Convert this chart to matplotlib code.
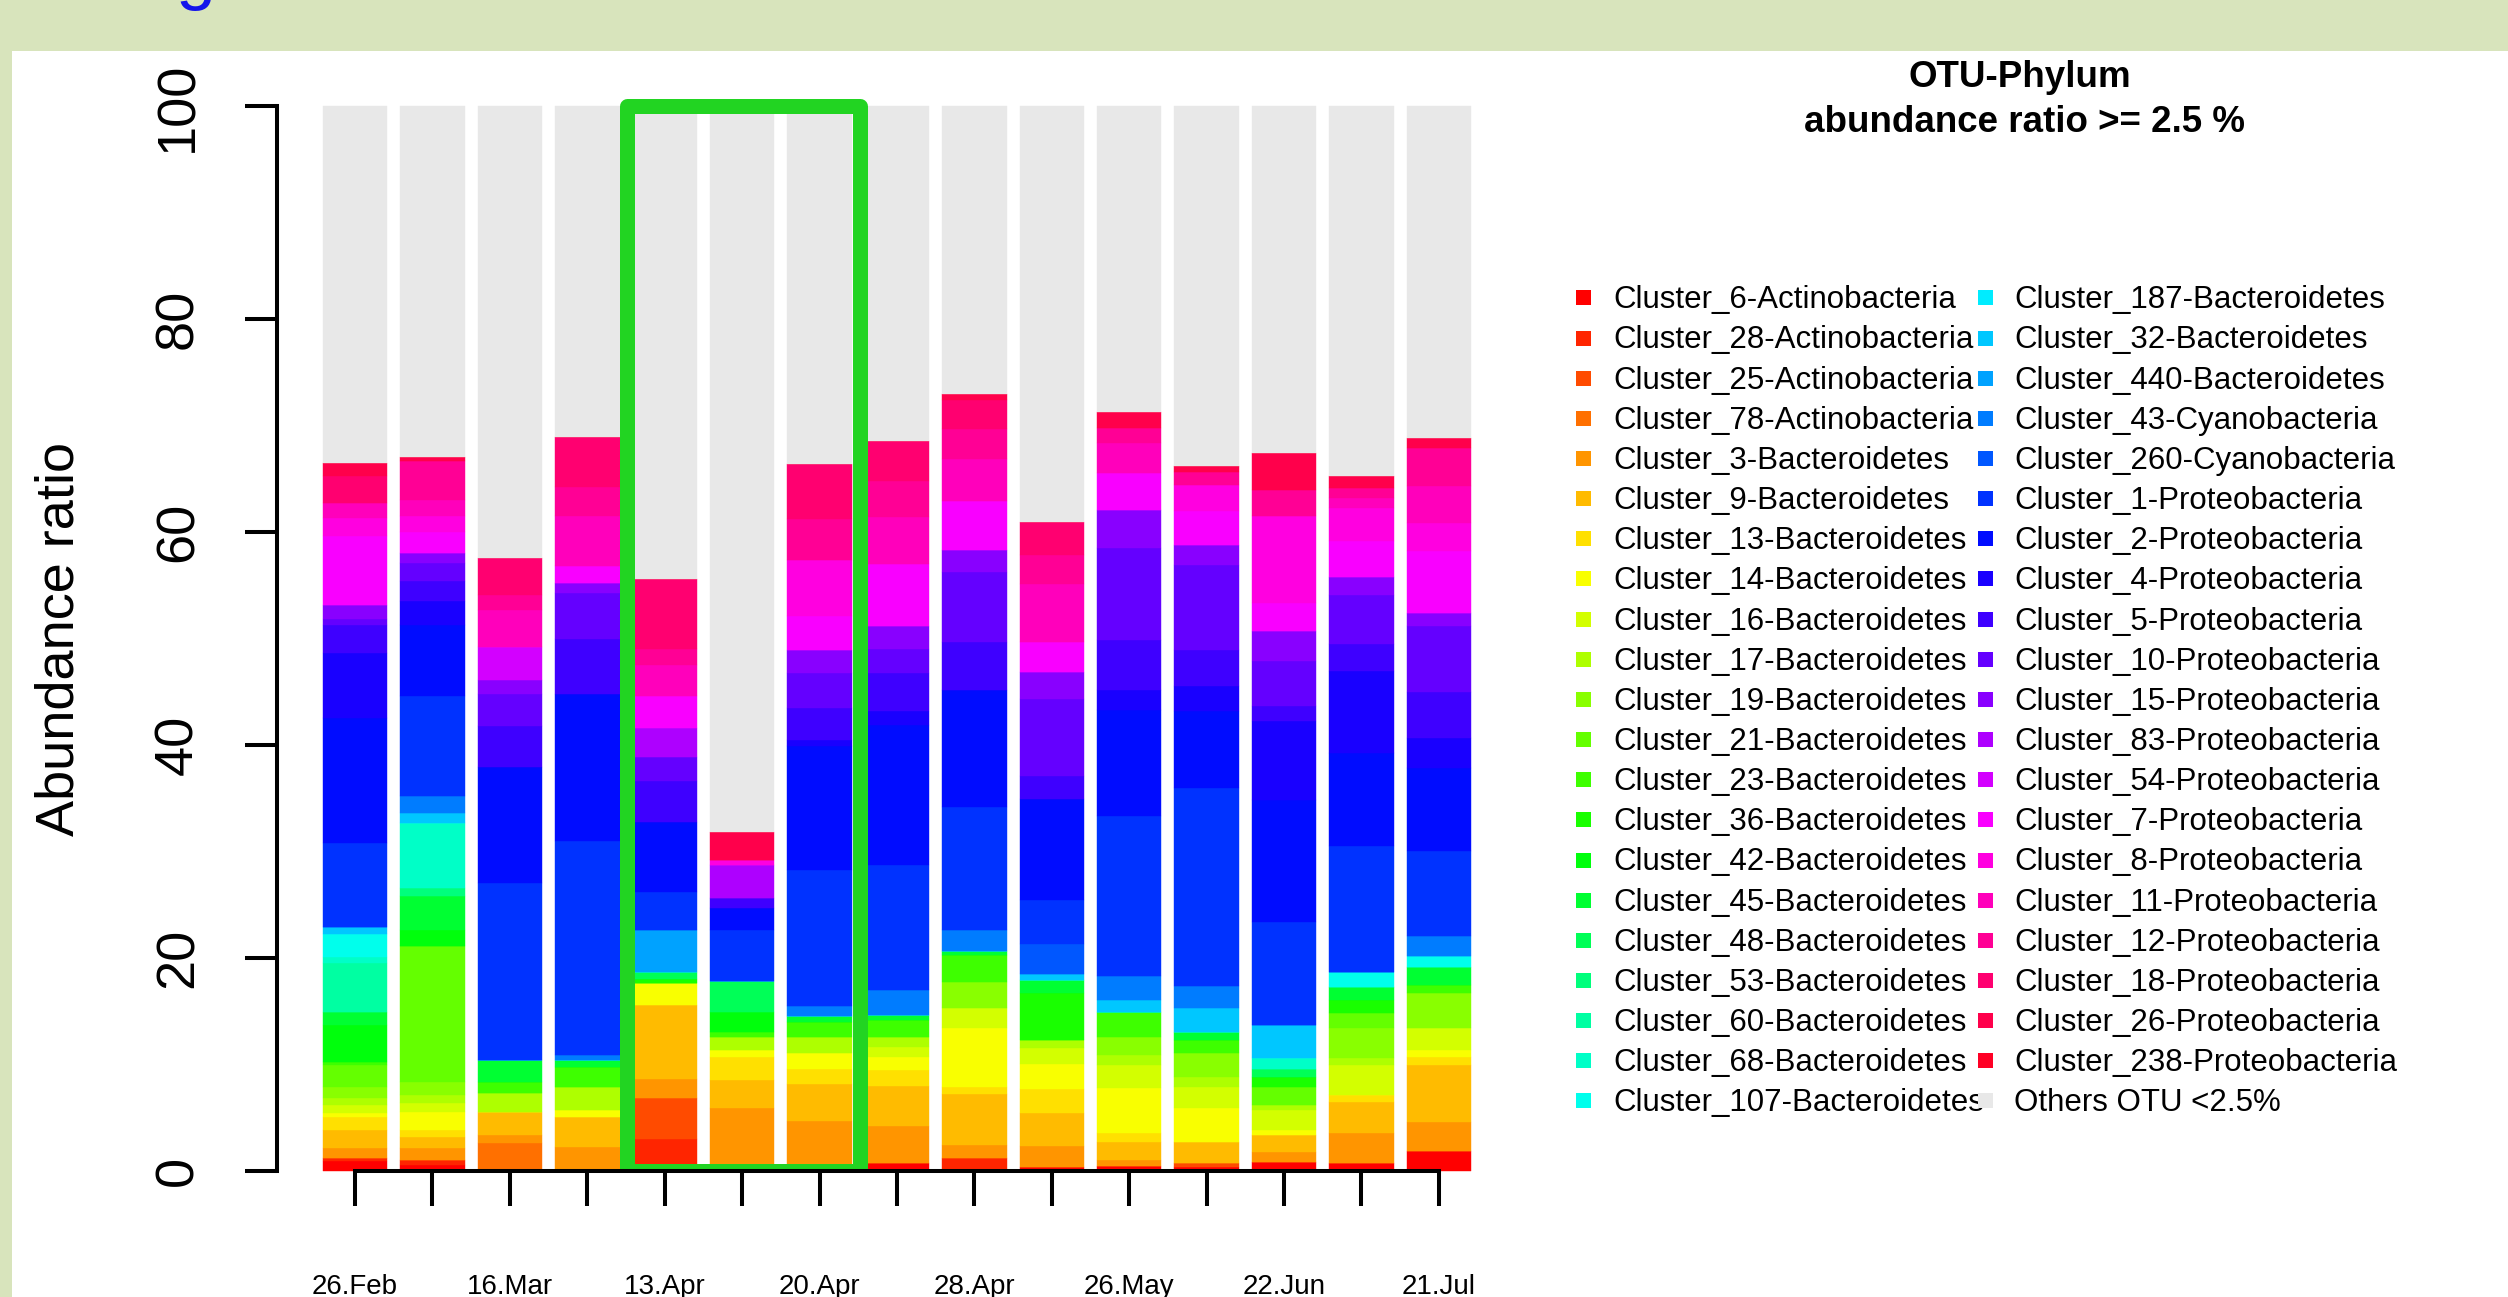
import colorsys
import matplotlib
matplotlib.use("Agg")
import matplotlib.pyplot as plt
import numpy as np
from matplotlib.patches import Rectangle
from matplotlib.lines import Line2D
from matplotlib.transforms import Bbox, TransformedBbox

plt.rcParams['font.family'] = ['Liberation Sans', 'DejaVu Sans']

# ---------------- data ----------------
tick_labels = ['26.Feb', '', '16.Mar', '', '13.Apr', '', '20.Apr', '',
               '28.Apr', '', '26.May', '', '22.Jun', '', '21.Jul']

clusters = [
    'Cluster_6-Actinobacteria', 'Cluster_28-Actinobacteria', 'Cluster_25-Actinobacteria',
    'Cluster_78-Actinobacteria', 'Cluster_3-Bacteroidetes', 'Cluster_9-Bacteroidetes',
    'Cluster_13-Bacteroidetes', 'Cluster_14-Bacteroidetes', 'Cluster_16-Bacteroidetes',
    'Cluster_17-Bacteroidetes', 'Cluster_19-Bacteroidetes', 'Cluster_21-Bacteroidetes',
    'Cluster_23-Bacteroidetes', 'Cluster_36-Bacteroidetes', 'Cluster_42-Bacteroidetes',
    'Cluster_45-Bacteroidetes', 'Cluster_48-Bacteroidetes', 'Cluster_53-Bacteroidetes',
    'Cluster_60-Bacteroidetes', 'Cluster_68-Bacteroidetes', 'Cluster_107-Bacteroidetes',
    'Cluster_187-Bacteroidetes', 'Cluster_32-Bacteroidetes', 'Cluster_440-Bacteroidetes',
    'Cluster_43-Cyanobacteria', 'Cluster_260-Cyanobacteria', 'Cluster_1-Proteobacteria',
    'Cluster_2-Proteobacteria', 'Cluster_4-Proteobacteria', 'Cluster_5-Proteobacteria',
    'Cluster_10-Proteobacteria', 'Cluster_15-Proteobacteria', 'Cluster_83-Proteobacteria',
    'Cluster_54-Proteobacteria', 'Cluster_7-Proteobacteria', 'Cluster_8-Proteobacteria',
    'Cluster_11-Proteobacteria', 'Cluster_12-Proteobacteria', 'Cluster_18-Proteobacteria',
    'Cluster_26-Proteobacteria', 'Cluster_238-Proteobacteria']
others_label = 'Others OTU <2.5%'

# abundance (%) of each cluster, one list per sample (bar), in cluster order
s01 = [0.90, 0.25, 0, 0, 0.95, 1.72, 1.26, 0.31, 0.79, 0.62,
       1.10, 2.04, 0.31, 0, 3.45, 1.25, 0, 0, 4.55, 0.60,
       2.10, 0, 0.70, 0, 0, 0, 7.90, 11.70, 6.15, 2.65,
       0.50, 1.40, 0, 0, 6.40, 1.75, 1.41, 0, 2.54, 1.20, 0]
s02 = [0.55, 0.45, 0, 0, 1.10, 1.10, 0.62, 1.73, 0.78, 0.77,
       1.27, 12.70, 0, 0, 1.53, 3.17, 0, 0.78, 0, 6.11,
       0, 0, 0.94, 0, 1.60, 0, 9.40, 6.70, 2.20, 1.95,
       1.65, 0.96, 0, 0, 1.94, 1.50, 1.57, 3.63, 0, 0.40, 0]
s03 = [0, 0, 0, 2.57, 0.78, 2.20, 0, 0, 0, 1.72,
       0, 0, 1.10, 0, 0, 2.03, 0, 0, 0, 0,
       0, 0, 0, 0, 0, 0, 16.60, 10.90, 0, 3.90,
       3.00, 1.30, 0, 3.10, 0, 0, 3.47, 1.43, 3.50, 0, 0]
s04 = [0, 0, 0, 0, 2.26, 2.82, 0, 0.62, 0, 2.20,
       0, 0, 1.88, 0, 0, 0.62, 0, 0, 0, 0,
       0, 0, 0, 0, 0.47, 0, 20.07, 13.89, 0, 5.14,
       4.33, 0.94, 0, 0, 1.56, 0, 4.70, 2.70, 4.70, 0, 0]
s05 = [0, 2.95, 3.85, 0, 1.82, 6.96, 0, 2.02, 0, 0,
       0, 0, 0, 0.46, 0, 0, 0.64, 0, 0, 0,
       0, 0, 0, 3.90, 0, 0, 3.60, 6.60, 0, 3.80,
       2.30, 0, 2.70, 0, 3.00, 0, 2.90, 1.50, 6.60, 0, 0]
s06 = [0.55, 0, 0, 0, 5.31, 2.67, 2.19, 0.63, 0, 1.19,
       0, 0, 0.53, 0, 1.88, 0, 2.89, 0, 0, 0,
       0, 0, 0, 0, 0, 0, 4.79, 2.04, 0, 0.93,
       0, 0, 3.15, 0, 0, 0.45, 0, 0, 0, 2.60, 0]
s07 = [0, 0, 0, 0, 4.70, 3.45, 1.41, 1.47, 0, 1.57,
       0, 0, 1.40, 0, 0, 0.50, 0, 0, 0, 0,
       0, 0, 0, 0, 1.00, 0, 12.80, 11.60, 0.60, 3.00,
       3.30, 2.17, 0, 0, 3.19, 5.24, 0, 3.80, 5.20, 0, 0]
s08 = [0.70, 0, 0, 0, 3.50, 3.76, 1.51, 1.25, 0.94, 0.88,
       0, 0, 1.63, 0, 0, 0.47, 0, 0, 0, 0,
       0, 0, 0, 0, 2.36, 0, 11.75, 13.15, 1.30, 3.60,
       2.20, 2.16, 0, 0, 5.84, 0, 4.40, 3.40, 3.76, 0, 0]
s09 = [0, 1.16, 0, 0, 1.25, 4.79, 0.64, 5.55, 1.88, 0,
       2.50, 0, 2.51, 0, 0, 0.32, 0, 0, 0, 0,
       0, 0, 0, 0, 2.00, 0, 11.57, 11.03, 0, 4.50,
       6.54, 2.13, 0, 0, 4.53, 0, 4.00, 2.76, 2.74, 0.60, 0]
s10 = [0.38, 0, 0, 0, 1.94, 3.07, 2.26, 2.38, 1.47, 0.79,
       0, 0, 0, 4.39, 0, 1.25, 0, 0, 0, 0,
       0, 0, 0.57, 0, 0, 2.80, 4.15, 9.45, 0, 2.20,
       7.23, 2.50, 0, 0, 2.87, 0, 5.47, 2.70, 3.07, 0, 0]
s11 = [0.44, 0, 0, 0, 0.56, 1.73, 0.78, 4.23, 2.20, 0.94,
       1.66, 0, 2.41, 0, 0, 0, 0, 0, 0, 0,
       0, 0, 1.10, 0, 2.25, 0, 15.05, 9.95, 1.90, 4.64,
       8.66, 3.57, 0, 0, 3.51, 0, 2.82, 1.40, 0, 1.50, 0]
s12 = [0.38, 0, 0.37, 0, 0, 1.98, 0, 3.13, 2.04, 0.94,
       2.19, 0, 1.26, 0, 0, 0.78, 0, 0, 0, 0,
       0, 0, 2.20, 0, 2.10, 0, 18.59, 7.21, 2.33, 3.40,
       7.97, 1.88, 0, 0, 3.22, 2.43, 0, 1.24, 0, 0.56, 0]
s13 = [0.85, 0, 0, 0, 0.94, 1.56, 0, 0.47, 1.88, 0.48,
       0, 1.72, 0, 0.94, 0, 0, 0.69, 0, 0, 1.03,
       0, 0, 3.14, 0, 0, 0, 9.70, 11.46, 7.44, 1.40,
       4.20, 2.80, 0, 0, 2.65, 8.15, 0, 2.50, 0, 3.46, 0]
s14 = [0.69, 0, 0, 0, 2.88, 2.92, 0.63, 0, 2.82, 0.62,
       2.83, 1.41, 0, 1.25, 0, 1.25, 0, 0, 0, 0,
       1.40, 0, 0, 0, 0, 0, 11.77, 8.78, 7.68, 2.57,
       4.64, 1.63, 0, 0, 3.38, 3.15, 0.90, 0.97, 0, 1.13, 0]
s15 = [1.88, 0, 0, 0, 2.72, 5.34, 0.78, 0.63, 2.04, 0,
       3.29, 0, 0.78, 0, 0, 1.72, 0, 0, 0, 0,
       0.95, 0, 0, 0, 1.94, 0, 7.93, 7.84, 2.82, 4.29,
       6.27, 1.18, 0, 0, 5.80, 2.68, 3.42, 3.60, 0, 0.97, 0]
others = [33.50, 32.90, 42.40, 31.10, 44.40, 68.20, 33.60, 31.44,
          27.00, 39.06, 28.70, 33.80, 32.54, 34.70, 31.13]

samples = [s01, s02, s03, s04, s05, s06, s07, s08, s09, s10, s11, s12, s13, s14, s15]

# ---------------- style ----------------
W, H, DPI = 2508, 1297, 100
n_cl = len(clusters)
colors = [colorsys.hsv_to_rgb(k / n_cl, 1.0, 1.0) for k in range(n_cl)]
others_color = '#E8E8E8'
green = '#22D422'

fig = plt.figure(figsize=(W / DPI, H / DPI), dpi=DPI, facecolor='#D8E4BC')
# white slide panel (behind everything)
fig.patches.append(Rectangle((12 / W, 0), 1, (H - 50.7) / H, transform=fig.transFigure,
                             facecolor='white', edgecolor='none', zorder=-10))
# cut-off heading glyph at the very top
fig.text(176 / W, (H + 4.3) / H, 'g', color='#1414EB', fontsize=52,
         ha='left', va='baseline')

# axes placed in pixel units (R-like 4% padding)
px_left, px_right = 276.8, 1517.1
px_top, px_bot = 63.9, 1213.3
ax = fig.add_axes([px_left / W, 1 - px_bot / H, (px_right - px_left) / W, (px_bot - px_top) / H])
ax.set_zorder(1)
ax.patch.set_alpha(0)
ax.set_xlim(-0.512, 18.712)
ax.set_ylim(-4, 104)

xpos = 0.7 + 1.2 * np.arange(len(samples))
bottom = np.zeros(len(samples))
for k in range(n_cl):
    h = np.array([s[k] for s in samples])
    ax.bar(xpos, h, width=1.0, bottom=bottom, color=colors[k], edgecolor=colors[k],
           linewidth=0.3, zorder=2)
    bottom += h
ax.bar(xpos, others, width=1.0, bottom=bottom, color=others_color, edgecolor=others_color,
       linewidth=0.3, zorder=2)

# green highlight box
rect = Rectangle((4.92, 0), 8.52 - 4.92, 100, fill=False, edgecolor=green,
                 linewidth=10.8, joinstyle='round', zorder=3)
ax.add_patch(rect)
rect.set_clip_box(TransformedBbox(Bbox.from_extents(-1, 0, 20, 120), ax.transData))

# axes
for sp in ['top', 'right']:
    ax.spines[sp].set_visible(False)
ax.spines['left'].set_bounds(0, 100)
ax.spines['left'].set_linewidth(2.9)
ax.spines['bottom'].set_position(('data', 0))
ax.spines['bottom'].set_bounds(xpos[0], xpos[-1])
ax.spines['bottom'].set_linewidth(2.9)
ax.spines['bottom'].set_zorder(5)
ax.spines['left'].set_zorder(5)

ax.set_yticks([0, 20, 40, 60, 80, 100])
ax.set_yticklabels(['0', '20', '40', '60', '80', '100'], rotation=90, fontsize=39)
for lbl in ax.get_yticklabels():
    lbl.set_ha('center')
    lbl.set_va('center')
ax.tick_params(axis='y', length=23, width=2.9, pad=47.8)

ax.set_xticks(xpos)
ax.set_xticklabels(tick_labels, fontsize=20)
ax.tick_params(axis='x', length=25.2, width=2.9, pad=49)

ax.set_ylabel('Abundance ratio', fontsize=39, va='center')
ax.yaxis.set_label_coords((60 - px_left) / (px_right - px_left), 0.5)

# legend title
fig.text(2020 / W, 1 - 77.6 / H, 'OTU-Phylum', ha='center', va='center',
         fontsize=26.5, fontweight='bold')
fig.text(2024 / W, 1 - 122 / H, 'abundance ratio >= 2.5 %', ha='center', va='center',
         fontsize=26.5, fontweight='bold')

handles = [Line2D([], [], marker='s', linestyle='none', color=c, markersize=10.8,
                  markeredgewidth=0) for c in colors]
handles.append(Line2D([], [], marker='s', linestyle='none', color=others_color,
                      markersize=10.8, markeredgewidth=0))
labels = clusters + [others_label]
fig.legend(handles, labels, ncol=2, loc='upper left',
           bbox_to_anchor=(1574.1 / W, 1 - 285.3 / H), bbox_transform=fig.transFigure,
           frameon=False, fontsize=22.5, handlelength=0.6, handletextpad=0.643,
           columnspacing=-0.267, labelspacing=0.325, borderpad=0, borderaxespad=0)

fig.savefig('out.png', dpi=DPI, facecolor=fig.get_facecolor())
